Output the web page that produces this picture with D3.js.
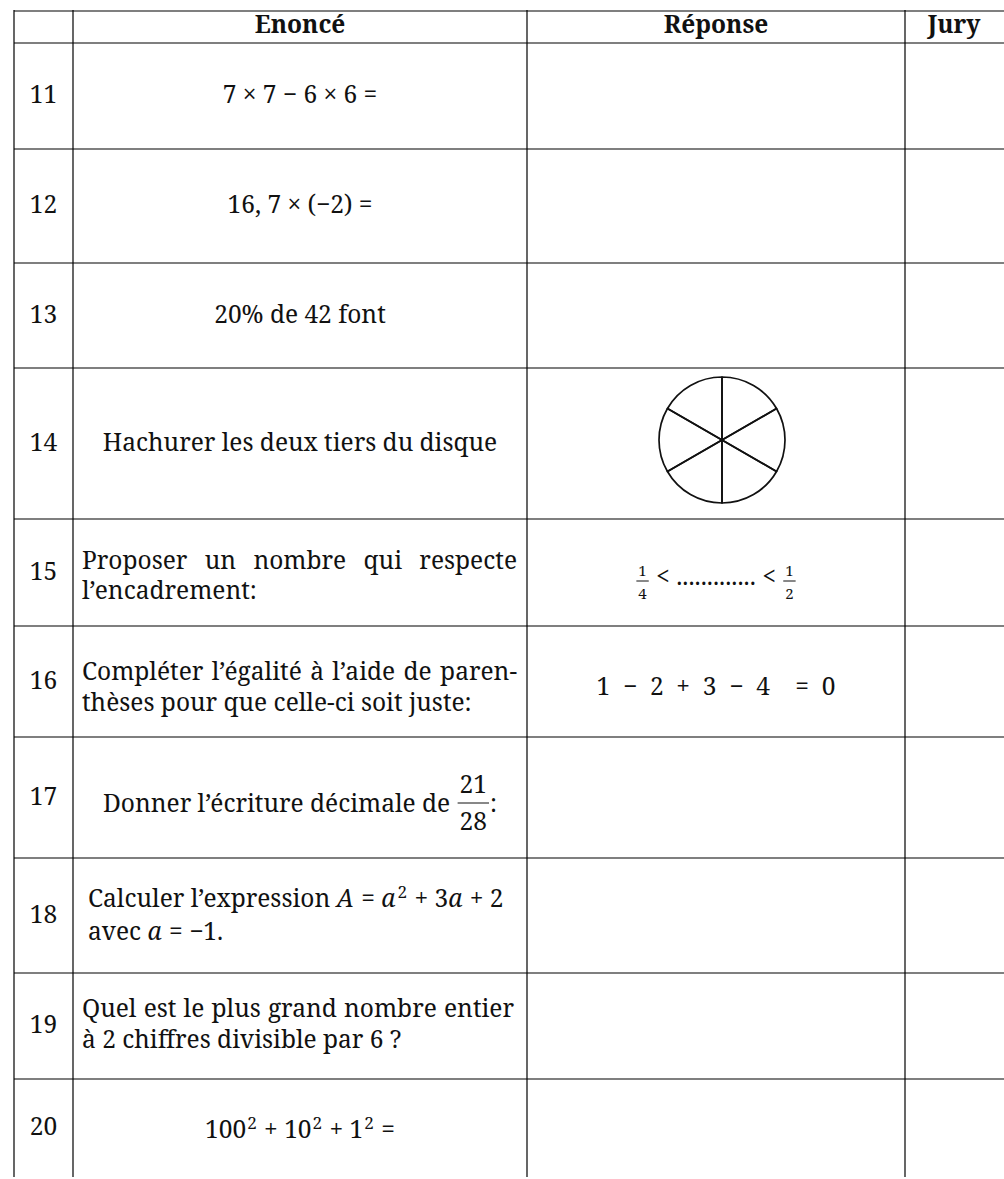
<!DOCTYPE html>
<html>
<head>
<meta charset="utf-8">
<script src="https://cdn.jsdelivr.net/npm/d3@7"></script>
<style>
  html, body { margin: 0; padding: 0; background: #fff; }
  svg text { white-space: pre; font-family: "Noto Serif", "Liberation Serif", serif; fill: #111; }
</style>
</head>
<body>
<div id="sheet"></div>
<script>
// table content
const headers = ["", "Enoncé", "Réponse", "Jury"];
const questionNumbers = ["11", "12", "13", "14", "15", "16", "17", "18", "19", "20"];

// each statement: list of lines, each line a list of tokens
const statements = [
    [["7 × 7 − 6 × 6 ="]],
    [["16, 7 × (−2) ="]],
    [["20% de 42 font"]],
    [["Hachurer les deux tiers du disque"]],
    [["Proposer un nombre qui respecte"], ["l’encadrement:"]],
    [["Compléter l’égalité à l’aide de paren-"], ["thèses pour que celle-ci soit juste:"]],
    [["Donner l’écriture décimale de ", { num: "21", den: "28" }, ":"]],
    [["Calculer l’expression ", { i: "A" }, " = ", { i: "a" }, { sup: "2" }, " + 3", { i: "a" }, " + 2"],
     ["avec ", { i: "a" }, " = −1."]],
    [["Quel est le plus grand nombre entier"], ["à 2 chiffres divisible par 6 ?"]],
    [["100", { sup: "2" }, " + 10", { sup: "2" }, " + 1", { sup: "2" }, " ="]]
];
const statementAlign = ["center", "center", "center", "center", "justify", "justify", "center", "block", "justify", "center"];

const answers = [
    null, null, null,
    "disc",
    [{ num: "1", den: "4", small: true }, " < ", ".............", " < ", { num: "1", den: "2", small: true }],
    ["1  −  2  +  3  −  4    =  0"],
    null, null, null, null
];
const discParts = [1, 1, 1, 1, 1, 1];

// layout
const W = 1004, H = 1179;
const colEdges = [14, 73, 527, 905];
const tableRight = 1004;
const tableTop = 11, headerH = 32;
const rowHeights = [106, 114, 105, 151, 107, 111, 121, 115, 106, 98];
const baseDy = [7, 7, 7.5, 7.5, -3.2, -1.5, 14, -9, -9.3, 10];
const lineGap = [0, 0, 0, 0, 30, 31, 0, 33.5, 31.5, 0];
const answerDy = [0, 0, 0, -3.5, 12.5, 13.5, 0, 0, 0, 0];
const fontSize = 24.5;
const padL = 9, padR = 10;

const svg = d3.select("#sheet").append("svg")
    .attr("width", W).attr("height", H)
    .style("font-size", fontSize + "px");

const rowTops = [tableTop + headerH, ...d3.cumsum(rowHeights).map(h => tableTop + headerH + h)];
const bottom = rowTops[rowTops.length - 1];

// grid lines
const grid = svg.append("g").attr("stroke", "#000").attr("stroke-width", 1.2);
colEdges.forEach(x => {
    grid.append("line").attr("x1", x).attr("x2", x).attr("y1", tableTop - 1).attr("y2", bottom);
});
[tableTop, ...rowTops.slice(0, -1)].forEach(y => {
    grid.append("line").attr("x1", colEdges[0]).attr("x2", tableRight).attr("y1", y).attr("y2", y);
});

// headers
const colCenters = [ (colEdges[0] + colEdges[1]) / 2, (colEdges[1] + colEdges[2]) / 2,
                     (colEdges[2] + colEdges[3]) / 2, (colEdges[3] + 1003) / 2 ];
svg.append("g").selectAll("text")
    .data(headers)
    .join("text")
    .attr("x", (d, i) => colCenters[i])
    .attr("y", tableTop + 22)
    .attr("text-anchor", "middle")
    .attr("font-weight", "bold")
    .text(d => d);

// draw one line of tokens, returns group + width
function drawTokens(g, tokens) {
    const lg = g.append("g");
    let cursor = 0;
    tokens.forEach(tok => {
        if (typeof tok === "string") {
            const t = lg.append("text").attr("x", cursor).attr("y", 0).text(tok);
            cursor += t.node().getComputedTextLength();
        } else if (tok.i) {
            const t = lg.append("text").attr("x", cursor).attr("y", 0)
                .attr("font-style", "italic").text(tok.i);
            cursor += t.node().getComputedTextLength() + 1;
        } else if (tok.sup) {
            const t = lg.append("text").attr("x", cursor + 1).attr("y", -9)
                .style("font-size", (fontSize * 0.7) + "px").text(tok.sup);
            cursor += t.node().getComputedTextLength() + 2;
        } else if (tok.num) {
            // small = inline (text style) fraction
            const fs = tok.small ? 15 : fontSize;
            const up = tok.small ? -9 : -19, down = tok.small ? 13.5 : 18, bar = tok.small ? -4 : -8.5;
            const n = lg.append("text").attr("y", up).style("font-size", fs + "px")
                .attr("text-anchor", "middle").text(tok.num);
            const d = lg.append("text").attr("y", down).style("font-size", fs + "px")
                .attr("text-anchor", "middle").text(tok.den);
            const w = Math.max(n.node().getComputedTextLength(), d.node().getComputedTextLength()) + 4;
            n.attr("x", cursor + 1 + w / 2);
            d.attr("x", cursor + 1 + w / 2);
            lg.append("line").attr("x1", cursor + 1).attr("x2", cursor + 1 + w)
                .attr("y1", bar).attr("y2", bar).attr("stroke", "#111").attr("stroke-width", 1);
            cursor += w + 2;
        }
    });
    return { g: lg, width: cursor };
}

function drawJustified(g, str, x, y, width) {
    const words = str.split(" ");
    const ts = words.map(w => g.append("text").attr("y", y).text(w));
    const widths = ts.map(t => t.node().getComputedTextLength());
    const gap = (width - d3.sum(widths)) / (words.length - 1);
    let cx = x;
    ts.forEach((t, i) => { t.attr("x", cx); cx += widths[i] + gap; });
}

// rows
statements.forEach((lines, r) => {
    const top = rowTops[r], mid = top + rowHeights[r] / 2;
    const rowG = svg.append("g");

    rowG.append("text")
        .attr("x", colCenters[0]).attr("y", mid + 7)
        .attr("text-anchor", "middle")
        .text(questionNumbers[r]);

    const innerL = colEdges[1] + padL, innerW = colEdges[2] - padR - innerL;
    lines.forEach((tokens, li) => {
        const y = mid + baseDy[r] + li * lineGap[r];
        const align = statementAlign[r];
        if (align === "justify" && li === 0) {
            drawJustified(rowG, tokens[0], innerL, y, innerW - (r === 8 ? 3 : 0));
        } else {
            const res = drawTokens(rowG, tokens);
            let x;
            if (align === "center") x = colCenters[1] - res.width / 2;
            else if (align === "block") x = innerL + 6;
            else x = innerL;
            res.g.attr("transform", `translate(${x},${y})`);
        }
    });

    const ans = answers[r];
    if (ans === "disc") {
        const radius = 63;
        const arc = d3.arc().innerRadius(0).outerRadius(radius);
        rowG.append("g")
            .attr("transform", `translate(${colCenters[2] + 6},${mid + answerDy[r]})`)
            .selectAll("path")
            .data(d3.pie().sort(null)(discParts))
            .join("path")
            .attr("d", arc)
            .attr("fill", "none")
            .attr("stroke", "#111")
            .attr("stroke-width", 1.7)
            .attr("stroke-linejoin", "round");
    } else if (ans) {
        const res = drawTokens(rowG, ans);
        res.g.attr("transform", `translate(${colCenters[2] - res.width / 2},${mid + answerDy[r]})`);
    }
});
</script>
</body>
</html>
